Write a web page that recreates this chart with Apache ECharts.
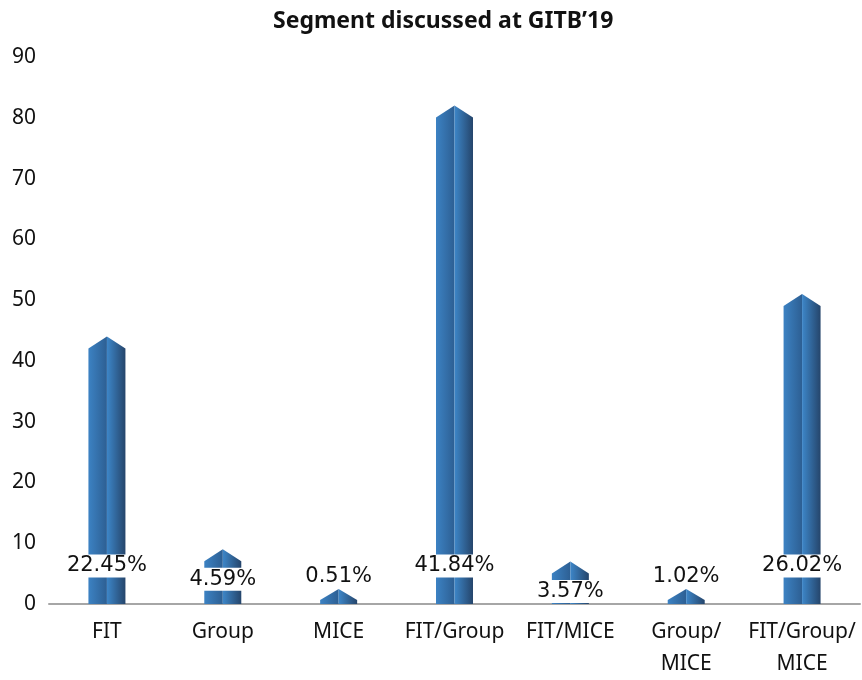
<!DOCTYPE html>
<html>
<head>
<meta charset="utf-8">
<style>
html,body{margin:0;padding:0;background:#fff;}
#chart{width:862px;height:680px;}
</style>
<script src="https://cdn.jsdelivr.net/npm/echarts@6/dist/echarts.min.js"></script>
</head>
<body>
<div id="chart"></div>
<script>
// 数据
var categories = ["FIT", "Group", "MICE", "FIT/Group", "FIT/MICE", "Group/\nMICE", "FIT/Group/\nMICE"];
var counts = [44, 9, 1, 82, 7, 2, 51];
var percents = ["22.45%", "4.59%", "0.51%", "41.84%", "3.57%", "1.02%", "26.02%"];
var yTicks = [0, 10, 20, 30, 40, 50, 60, 70, 80, 90];

var leftFace = new echarts.graphic.LinearGradient(0, 0, 1, 0, [
    {offset: 0, color: "#3c82c3"},
    {offset: 1, color: "#2d5f93"}
]);
var rightFace = new echarts.graphic.LinearGradient(0, 0, 1, 0, [
    {offset: 0, color: "#3d86c8"},
    {offset: 1, color: "#25456b"}
]);

function renderBar(params, api) {
    var idx = api.value(0);
    var top = api.coord([idx, api.value(1)]);
    var base = api.coord([idx, 0]);
    var x = top[0], apex = top[1], y0 = base[1];
    var hw = 18.5;
    var shoulder = apex + 12;
    if (shoulder > y0 - 4) {
        shoulder = y0 - 4;
        apex = shoulder - 11;
    }
    var ly = Math.max(y0 - 38, apex + 30);
    if (ly > y0 - 12) ly = apex - 12;
    return {
        type: "group",
        children: [
            {type: "polygon", shape: {points: [[x - hw, y0], [x - hw, shoulder], [x, apex], [x, y0]]}, style: {fill: leftFace}},
            {type: "polygon", shape: {points: [[x, y0], [x, apex], [x + hw, shoulder], [x + hw, y0]]}, style: {fill: rightFace}},
            {type: "text", x: x, y: ly, style: {
                text: percents[idx], align: "center", verticalAlign: "middle",
                fontFamily: "DejaVu Sans", fontSize: 21, fill: "#111",
                backgroundColor: "#fff", padding: [1, 2]
            }}
        ]
    };
}

var myChart = echarts.init(document.getElementById("chart"));
myChart.setOption({
    animation: false,
    title: {
        text: "Segment discussed at GITB\u201919",
        left: 268,
        top: 5,
        textStyle: {fontFamily: "Noto Sans", fontWeight: "bold", fontSize: 23, color: "#111"}
    },
    grid: {left: 49, right: 2, top: 57, bottom: 73},
    xAxis: {
        type: "category",
        data: categories,
        axisLine: {lineStyle: {color: "#a6a6a6", width: 2}},
        axisTick: {show: false},
        axisLabel: {fontFamily: "Noto Sans", fontSize: 21, color: "#111", margin: 12, lineHeight: 32, interval: 0}
    },
    yAxis: {
        type: "value",
        min: yTicks[0],
        max: yTicks[yTicks.length - 1],
        interval: 10,
        splitLine: {show: false},
        axisLine: {show: false},
        axisTick: {show: false},
        axisLabel: {fontFamily: "Noto Sans", fontSize: 21, color: "#111", margin: 13}
    },
    series: [{
        type: "custom",
        renderItem: renderBar,
        encode: {x: 0, y: 1},
        data: counts.map(function (v, i) { return [i, v]; })
    }]
});
window.addEventListener("resize", function () {
    myChart.resize();
});
</script>
</body>
</html>
